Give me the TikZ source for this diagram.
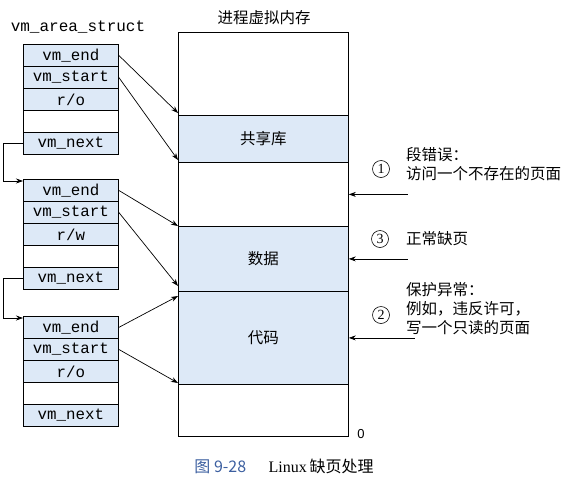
\documentclass[tikz,border=0pt]{standalone}
\usepackage{fontspec}
\setmonofont{Liberation Mono}
\newfontfamily\cjk{Noto Sans CJK SC}
\newfontfamily\serifl{Liberation Serif}
\newfontfamily\sansl{Liberation Sans}
\usetikzlibrary{arrows.meta,calc}
\definecolor{lblue}{RGB}{221,233,247}
\definecolor{capblue}{RGB}{60,95,160}
\tikzset{
  row/.style={draw, line width=0.8pt, fill=lblue, minimum width=95pt, minimum height=22pt, inner sep=0pt,
    anchor=north west, font=\ttfamily\fontsize{15.8}{17}\selectfont},
  blankrow/.style={row, fill=white},
  memreg/.style={draw, line width=0.8pt, minimum width=170pt, inner sep=0pt, anchor=north west,
    font=\cjk\fontsize{15.5}{18}\selectfont},
  arr/.style={-{Stealth[length=7pt,width=5pt]}, line width=0.7pt},
  lbl/.style={font=\cjk\fontsize{15.5}{19}\selectfont, align=left, anchor=west, inner sep=0pt},
  circ/.style={draw, circle, line width=0.6pt, minimum size=17pt, inner sep=0pt,
    font=\serifl\fontsize{14}{15}\selectfont}
}
\begin{document}
\begin{tikzpicture}[x=1pt,y=-1pt]
\useasboundingbox (0,0) rectangle (569,482);
% title
\node[font=\ttfamily\fontsize{16}{17}\selectfont] (stitle) at (78,27) {vm\_area\_struct};
% struct 1
\node[row] (a1) at (23,44) {vm\_end};
\node[row] (a2) at (23,66) {vm\_start};
\node[row] (a3) at (23,88) {r/o};
\node[blankrow] (a4) at (23,110) {};
\node[row] (a5) at (23,132) {vm\_next};
% struct 2
\node[row] (b1) at (23,179) {vm\_end};
\node[row] (b2) at (23,201) {vm\_start};
\node[row] (b3) at (23,223) {r/w};
\node[blankrow] (b4) at (23,245) {};
\node[row] (b5) at (23,267) {vm\_next};
% struct 3
\node[row] (c1) at (23,316) {vm\_end};
\node[row] (c2) at (23,338) {vm\_start};
\node[row] (c3) at (23,360) {r/o};
\node[blankrow] (c4) at (23,382) {};
\node[row] (c5) at (23,404) {vm\_next};
% memory
\node[font=\cjk\fontsize{15.5}{18}\selectfont] (mtitle) at (264,18) {进程虚拟内存};
\node[memreg, minimum height=83pt] (mtop) at (178,32) {};
\node[memreg, minimum height=47pt, fill=lblue] (shlib) at (178,115) {共享库};
\node[memreg, minimum height=64pt] (gap) at (178,162) {};
\node[memreg, minimum height=65pt, fill=lblue] (data) at (178,226) {数据};
\node[memreg, minimum height=93pt, fill=lblue] (code) at (178,291) {代码};
\node[memreg, minimum height=52pt] (mbot) at (178,384) {};
\node[font=\sansl\fontsize{13}{15}\selectfont] (zero) at (361,434) {0};
% struct -> memory
\coordinate (t1) at (178,113);
\coordinate (t2) at (178,160);
\coordinate (t3) at (178,226);
\coordinate (t4) at (178,286);
\coordinate (t5) at (178,296);
\coordinate (t6) at (178,383);
\draw[arr] (a1.east) -- (t1);
\draw[arr] (a2.east) -- (t2);
\draw[arr] (b1.east) -- (t3);
\draw[arr] (b2.east) -- (t4);
\draw[arr] (c1.east) -- (t5);
\draw[arr] (c2.east) -- (t6);
% vm_next links
\draw[arr] (a5.west) -- ++(-20,0) |- ([yshift=-2pt]b1.north west);
\draw[arr] (b5.west) -- ++(-20,0) |- ([yshift=-2pt]c1.north west);
% faults
\draw[arr] ([xshift=59pt]gap.east) -- (gap.east);
\draw[arr] ([xshift=59pt]data.east) -- (data.east);
\draw[arr] ([xshift=66pt]code.east) -- (code.east);
\node[circ] (n1) at (381,169) {1};
\node[lbl] (l1) at (406,164) {段错误：\\访问一个不存在的页面};
\node[circ] (n3) at (380,239) {3};
\node[lbl] (l3) at (406,239) {正常缺页};
\node[circ] (n2) at (381,315) {2};
\node[lbl] (l2) at (406,309) {保护异常：\\例如，违反许可，\\写一个只读的页面};
% caption
\node[font=\fontsize{16}{18}\selectfont, inner sep=0pt] (cap) at (284,466)
  {{\cjk\color{capblue}图 9-28}\hspace{1.4em}{\serifl Linux}\,{\cjk 缺页处理}};
\end{tikzpicture}
\end{document}
